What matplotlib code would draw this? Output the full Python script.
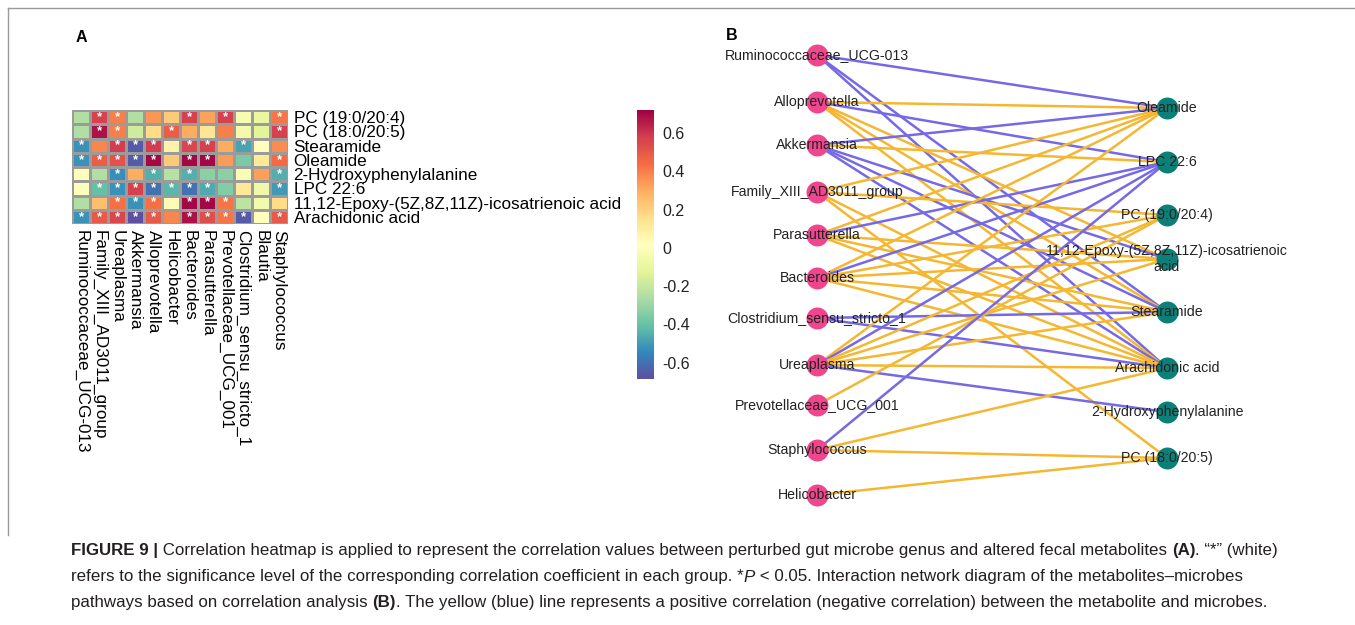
"""
Figura 9: (A) heatmap de correlación géneros-metabolitos y (B) red de interacción.
Salida: out.png
"""
import numpy as np
import matplotlib
matplotlib.use("Agg")
import matplotlib.pyplot as plt
from matplotlib.font_manager import FontProperties

plt.rcParams["font.family"] = ["Liberation Sans", "DejaVu Sans"]

W, H = 1355, 625

# ---------------- Panel A: datos ----------------
metabolitos = ["PC (19:0/20:4)", "PC (18:0/20:5)", "Stearamide", "Oleamide",
               "2-Hydroxyphenylalanine", "LPC 22:6",
               "11,12-Epoxy-(5Z,8Z,11Z)-icosatrienoic acid", "Arachidonic acid"]
generos = ["Ruminococcaceae_UCG-013", "Family_XIII_AD3011_group", "Ureaplasma",
           "Akkermansia", "Alloprevotella", "Helicobacter", "Bacteroides",
           "Parasutterella", "Prevotellaceae_UCG_001", "Clostridium_sensu_stricto_1",
           "Blautia", "Staphylococcus"]

corr_pc19 = [-0.25, 0.57, 0.40, -0.25, 0.35, 0.22, 0.57, 0.32, 0.57, -0.03, -0.10, 0.42]
corr_pc18 = [-0.25, 0.68, 0.40, -0.18, 0.17, 0.48, 0.30, 0.13, 0.40, -0.05, -0.13, 0.57]
corr_stear = [-0.52, 0.38, 0.58, -0.65, 0.58, 0.07, 0.55, 0.57, 0.30, -0.48, 0.02, 0.37]
corr_olea = [-0.52, 0.48, 0.52, -0.65, 0.70, 0.22, 0.70, 0.70, 0.34, -0.36, 0.12, 0.45]
corr_hidroxi = [0.00, -0.25, -0.53, 0.30, -0.45, -0.24, -0.45, -0.33, -0.33, -0.02, 0.33, -0.45]
corr_lpc = [0.01, -0.41, -0.52, 0.57, -0.60, -0.43, -0.60, -0.46, -0.35, 0.12, -0.06, -0.50]
corr_epoxi = [-0.25, 0.25, 0.43, -0.52, 0.43, 0.04, 0.70, 0.70, 0.42, -0.22, -0.05, 0.17]
corr_araq = [-0.52, 0.50, 0.55, -0.68, 0.50, 0.38, 0.68, 0.53, 0.42, -0.65, 0.01, 0.50]
corr = [corr_pc19, corr_pc18, corr_stear, corr_olea,
        corr_hidroxi, corr_lpc, corr_epoxi, corr_araq]

# "1" = celda con asterisco (P < 0.05)
sig = ["011000101001",
       "011001000001",
       "101110110100",
       "111110110001",
       "001010100001",
       "011111110001",
       "001110111000",
       "111110111101"]

# ---------------- Panel B: datos ----------------
microbios_red = ["Ruminococcaceae_UCG-013", "Alloprevotella", "Akkermansia",
                 "Family_XIII_AD3011_group", "Parasutterella", "Bacteroides",
                 "Clostridium_sensu_stricto_1", "Ureaplasma", "Prevotellaceae_UCG_001",
                 "Staphylococcus", "Helicobacter"]
metabolitos_red = ["Oleamide", "LPC 22:6", "PC (19:0/20:4)",
                   "11,12-Epoxy-(5Z,8Z,11Z)-icosatrienoic acid", "Stearamide",
                   "Arachidonic acid", "2-Hydroxyphenylalanine", "PC (18:0/20:5)"]

# (microbio, metabolito, signo)  +1 positiva (amarillo), -1 negativa (azul)
aristas = [
    ("Ruminococcaceae_UCG-013", "Oleamide", -1),
    ("Ruminococcaceae_UCG-013", "Stearamide", -1),
    ("Ruminococcaceae_UCG-013", "Arachidonic acid", -1),
    ("Alloprevotella", "Oleamide", 1),
    ("Alloprevotella", "LPC 22:6", -1),
    ("Alloprevotella", "Stearamide", 1),
    ("Alloprevotella", "11,12-Epoxy-(5Z,8Z,11Z)-icosatrienoic acid", 1),
    ("Alloprevotella", "Arachidonic acid", 1),
    ("Akkermansia", "Oleamide", -1),
    ("Akkermansia", "LPC 22:6", 1),
    ("Akkermansia", "Stearamide", -1),
    ("Akkermansia", "11,12-Epoxy-(5Z,8Z,11Z)-icosatrienoic acid", -1),
    ("Akkermansia", "Arachidonic acid", -1),
    ("Family_XIII_AD3011_group", "Oleamide", 1),
    ("Family_XIII_AD3011_group", "PC (19:0/20:4)", 1),
    ("Family_XIII_AD3011_group", "Arachidonic acid", 1),
    ("Family_XIII_AD3011_group", "PC (18:0/20:5)", 1),
    ("Parasutterella", "Oleamide", 1),
    ("Parasutterella", "LPC 22:6", -1),
    ("Parasutterella", "Stearamide", 1),
    ("Parasutterella", "11,12-Epoxy-(5Z,8Z,11Z)-icosatrienoic acid", 1),
    ("Parasutterella", "Arachidonic acid", 1),
    ("Bacteroides", "Oleamide", 1),
    ("Bacteroides", "LPC 22:6", -1),
    ("Bacteroides", "PC (19:0/20:4)", 1),
    ("Bacteroides", "Stearamide", 1),
    ("Bacteroides", "11,12-Epoxy-(5Z,8Z,11Z)-icosatrienoic acid", 1),
    ("Bacteroides", "Arachidonic acid", 1),
    ("Clostridium_sensu_stricto_1", "Stearamide", -1),
    ("Clostridium_sensu_stricto_1", "Arachidonic acid", -1),
    ("Ureaplasma", "Oleamide", 1),
    ("Ureaplasma", "LPC 22:6", -1),
    ("Ureaplasma", "PC (19:0/20:4)", 1),
    ("Ureaplasma", "Stearamide", 1),
    ("Ureaplasma", "11,12-Epoxy-(5Z,8Z,11Z)-icosatrienoic acid", 1),
    ("Ureaplasma", "Arachidonic acid", 1),
    ("Ureaplasma", "2-Hydroxyphenylalanine", -1),
    ("Prevotellaceae_UCG_001", "PC (19:0/20:4)", 1),
    ("Staphylococcus", "LPC 22:6", -1),
    ("Staphylococcus", "Arachidonic acid", 1),
    ("Staphylococcus", "PC (18:0/20:5)", 1),
    ("Helicobacter", "PC (18:0/20:5)", 1),
]

# Texto del pie de figura: (texto, peso, estilo)
pie_linea1 = [("FIGURE 9 |", "bold", "normal"),
              (" Correlation heatmap is applied to represent the correlation values between "
               "perturbed gut microbe genus and altered fecal metabolites ", "normal", "normal"),
              ("(A)", "bold", "normal"),
              (". \u201c*\u201d (white)", "normal", "normal")]
pie_linea2 = [("refers to the significance level of the corresponding correlation coefficient "
               "in each group. *", "normal", "normal"),
              ("P", "normal", "italic"),
              (" < 0.05. Interaction network diagram of the metabolites\u2013microbes",
               "normal", "normal")]
pie_linea3 = [("pathways based on correlation analysis ", "normal", "normal"),
              ("(B)", "bold", "normal"),
              (". The yellow (blue) line represents a positive correlation (negative "
               "correlation) between the metabolite and microbes.", "normal", "normal")]


def px_axes(fig, x0, y0, x1, y1):
    return fig.add_axes([x0 / W, 1 - y1 / H, (x1 - x0) / W, (y1 - y0) / H])


fig = plt.figure(figsize=(W / 100, H / 100), dpi=100)

# capa general en pixeles (red, marco, pie)
ax = fig.add_axes([0, 0, 1, 1])
ax.set_xlim(0, W)
ax.set_ylim(H, 0)
ax.axis("off")

# marco
ax.plot([8, 8], [8, 535], color="#9a9a9a", lw=1)
ax.plot([8, W], [8, 8], color="#9a9a9a", lw=1)

ax.text(81, 37, "A", fontsize=11.5, fontweight="bold", ha="center", va="center")
ax.text(732, 36, "B", fontsize=11.5, fontweight="bold", ha="center", va="center")

# ---------------- Panel A ----------------
axh = px_axes(fig, 72, 110, 288, 224)
mesh = axh.pcolormesh(np.arange(len(generos) + 1), np.arange(len(metabolitos) + 1),
                      np.array(corr), cmap="Spectral_r", vmin=-0.685, vmax=0.72,
                      edgecolors="#9b9b9b", linewidth=1.0)
axh.set_xlim(0, len(generos))
axh.set_ylim(len(metabolitos), 0)
for s in axh.spines.values():
    s.set_visible(False)
axh.set_yticks(np.arange(len(metabolitos)) + 0.5, metabolitos)
axh.yaxis.tick_right()
axh.set_xticks(np.arange(len(generos)) + 0.5, generos, rotation=270)
axh.tick_params(axis="both", length=0, labelsize=12.3, pad=4)
for i, fila in enumerate(sig):
    for j, c in enumerate(fila):
        if c == "1":
            axh.text(j + 0.5, i + 0.5, "*", color="white", ha="center", va="center",
                     fontsize=9.5, fontweight="bold")

cax = px_axes(fig, 637, 110, 654, 379)
cb = fig.colorbar(mesh, cax=cax)
cb.outline.set_visible(False)
cb.set_ticks([-0.6, -0.4, -0.2, 0, 0.2, 0.4, 0.6])
cb.set_ticklabels(["-0.6", "-0.4", "-0.2", "0", "0.2", "0.4", "0.6"])
cax.tick_params(length=0, pad=6, labelsize=11.5, colors="#222222")

# ---------------- Panel B ----------------
x_izq, x_der = 817, 1167
y_izq = [55, 102, 145, 192, 235, 278, 318, 365, 405, 450, 495]
y_der = [108, 162, 215, 259, 312, 368, 412, 458]
pos_izq = dict(zip(microbios_red, y_izq))
pos_der = dict(zip(metabolitos_red, y_der))

for mic, met, signo in aristas:
    color = "#F5B731" if signo > 0 else "#7669E6"
    ax.plot([x_izq, x_der], [pos_izq[mic], pos_der[met]], color=color, lw=1.8,
            solid_capstyle="round", zorder=2)

ax.scatter([x_izq] * len(y_izq), y_izq, s=250, color="#F0468E", zorder=3, linewidths=0)
ax.scatter([x_der] * len(y_der), y_der, s=250, color="#0B8079", zorder=3, linewidths=0)

for nombre, y in pos_izq.items():
    ax.text(x_izq, y, nombre, fontsize=10.2, color="#222222", ha="center", va="center", zorder=4)
for nombre, y in pos_der.items():
    etiqueta = nombre.replace("icosatrienoic acid", "icosatrienoic\nacid")
    ax.text(x_der, y, etiqueta, fontsize=10.2, color="#222222", ha="center", va="center",
            multialignment="center", linespacing=1.2, zorder=4)

# ---------------- Pie de figura ----------------
renderer = fig.canvas.get_renderer()
tam_pie = 12.2


def ancho(texto, peso, estilo):
    fp = FontProperties(family=["Liberation Sans", "DejaVu Sans"], weight=peso,
                        style=estilo, size=tam_pie)
    w1 = renderer.get_text_width_height_descent("x" + texto + "x", fp, ismath=False)[0]
    w0 = renderer.get_text_width_height_descent("xx", fp, ismath=False)[0]
    return w1 - w0


for linea, y in [(pie_linea1, 550), (pie_linea2, 577), (pie_linea3, 603)]:
    x = 71
    for texto, peso, estilo in linea:
        ax.text(x, y, texto, fontsize=tam_pie, fontweight=peso, fontstyle=estilo,
                color="#231f20", ha="left", va="center")
        x += ancho(texto, peso, estilo)

fig.savefig("out.png", dpi=100)
